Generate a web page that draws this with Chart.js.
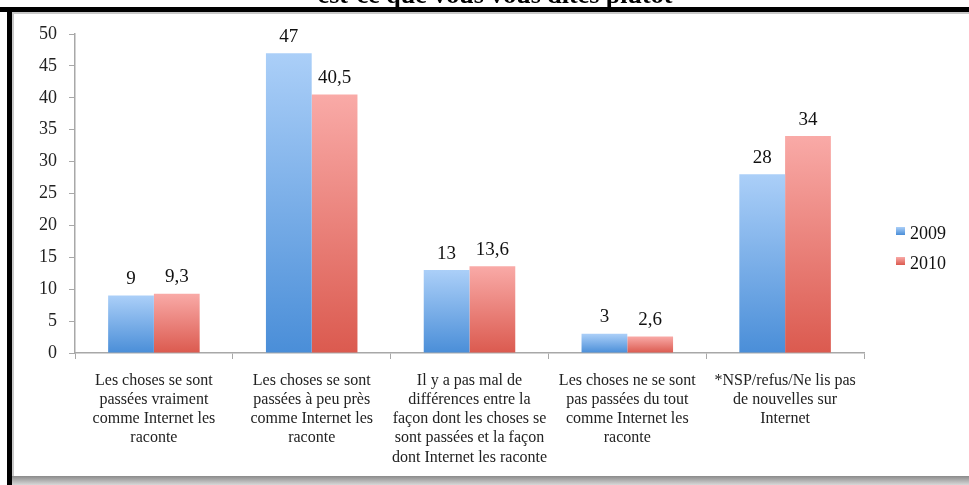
<!DOCTYPE html>
<html>
<head>
<meta charset="utf-8">
<script src="https://cdn.jsdelivr.net/npm/chart.js@4/dist/chart.umd.min.js"></script>
<style>
  html, body { margin: 0; padding: 0; background: #fff; }
  #wrap { width: 969px; height: 485px; }
</style>
</head>
<body>
<div id="wrap"><canvas id="chart" width="969" height="485"></canvas></div>
<script>
// données
const titre = 'est-ce que vous vous dites plutôt';
const categories = [
    ['Les choses se sont', 'passées vraiment', 'comme Internet les', 'raconte'],
    ['Les choses se sont', 'passées à peu près', 'comme Internet les', 'raconte'],
    ['Il y a pas mal de', 'différences entre la', 'façon dont les choses se', 'sont passées et la façon', 'dont Internet les raconte'],
    ['Les choses ne se sont', 'pas passées du tout', 'comme Internet les', 'raconte'],
    ['*NSP/refus/Ne lis pas', 'de nouvelles sur', 'Internet']
];
const annees = ['2009', '2010'];
const valeurs2009 = [9, 47, 13, 3, 28];
const valeurs2010 = [9.3, 40.5, 13.6, 2.6, 34];

const couleurs = [
    { haut: '#abcff8', bas: '#4a8ed8' }, // bleu
    { haut: '#f9aaa7', bas: '#db5a4f' }  // rouge
];

const SERIF = '"Liberation Serif", "Times New Roman", serif';

function degrade(i) {
    return function (context) {
        const chart = context.chart;
        if (!chart.chartArea || context.raw === undefined) return couleurs[i].bas;
        const y = chart.scales.y;
        const top = y.getPixelForValue(context.raw);
        const bottom = y.getPixelForValue(0);
        const g = chart.ctx.createLinearGradient(0, top, 0, bottom);
        g.addColorStop(0, couleurs[i].haut);
        g.addColorStop(1, couleurs[i].bas);
        return g;
    };
}

// cadre, titre coupé, étiquettes et légende
const decor = {
    id: 'decor',
    beforeDraw(chart) {
        const c = chart.ctx;
        c.save();
        c.fillStyle = '#fff';
        c.fillRect(0, 0, chart.width, chart.height);
        // ombre grise en bas
        const sh = c.createLinearGradient(0, 476, 0, 485);
        sh.addColorStop(0, '#8a8a8a');
        sh.addColorStop(1, '#d8d8d8');
        c.fillStyle = sh;
        c.fillRect(12, 476, chart.width - 12, 9);
        c.fillStyle = '#fff';
        c.fillRect(12, 13, chart.width - 12, 463);
        // bord gris intérieur
        c.fillStyle = '#c8c8c8';
        c.fillRect(12, 12, chart.width - 12, 2);
        c.fillRect(12, 12, 2, 464);
        // titre (coupé par le haut de l'image)
        c.fillStyle = '#000';
        c.font = 'bold 26px ' + SERIF;
        c.textAlign = 'center';
        c.textBaseline = 'alphabetic';
        c.fillText(titre, 495, 3);
        // cadre noir
        c.fillRect(0, 7, chart.width, 5);
        c.fillRect(7, 7, 5, chart.height - 7);
        c.restore();
    },
    afterDatasetsDraw(chart) {
        const c = chart.ctx;
        c.save();
        c.font = '19px ' + SERIF;
        c.fillStyle = '#111';
        c.textAlign = 'center';
        c.textBaseline = 'bottom';
        chart.data.datasets.forEach((ds, i) => {
            chart.getDatasetMeta(i).data.forEach((bar, j) => {
                const txt = String(ds.data[j]).replace('.', ',');
                c.fillText(txt, bar.x, bar.y - 7);
            });
        });
        // légende
        c.font = '18px ' + SERIF;
        c.textAlign = 'left';
        c.textBaseline = 'middle';
        annees.forEach((a, i) => {
            const y = 233 + i * 30;
            const g = c.createLinearGradient(0, y - 6, 0, y + 2);
            g.addColorStop(0, couleurs[i].haut);
            g.addColorStop(1, couleurs[i].bas);
            c.fillStyle = g;
            c.fillRect(896, y - 6, 9, 8);
            c.fillStyle = '#111';
            c.fillText(a, 910, y + 1);
        });
        c.restore();
    }
};

new Chart(document.getElementById('chart'), {
    type: 'bar',
    data: {
        labels: categories,
        datasets: [
            { label: annees[0], data: valeurs2009, backgroundColor: degrade(0), borderWidth: 0 },
            { label: annees[1], data: valeurs2010, backgroundColor: degrade(1), borderWidth: 0 }
        ]
    },
    options: {
        responsive: false,
        animation: false,
        devicePixelRatio: 1,
        layout: { padding: { left: 0, right: 105, top: 34, bottom: 0 } },
        datasets: { bar: { categoryPercentage: 0.58, barPercentage: 1 } },
        plugins: { legend: { display: false }, tooltip: { enabled: false }, title: { display: false } },
        scales: {
            x: {
                grid: { display: true, drawOnChartArea: false, offset: true, color: '#a8a8a8', tickLength: 6 },
                border: { color: '#a8a8a8', width: 1.5 },
                ticks: { color: '#222', font: { family: SERIF, size: 16, lineHeight: 1.2 }, padding: 12, maxRotation: 0, autoSkip: false },
                afterFit(s) { s.height = 132; }
            },
            y: {
                min: 0, max: 50,
                grid: { display: true, drawOnChartArea: false, color: '#a8a8a8', tickLength: 6 },
                border: { color: '#a8a8a8', width: 1.5 },
                ticks: { stepSize: 5, color: '#222', font: { family: SERIF, size: 18 }, padding: 12 },
                afterFit(s) { s.width = 75; }
            }
        }
    },
    plugins: [decor]
});
</script>
</body>
</html>
